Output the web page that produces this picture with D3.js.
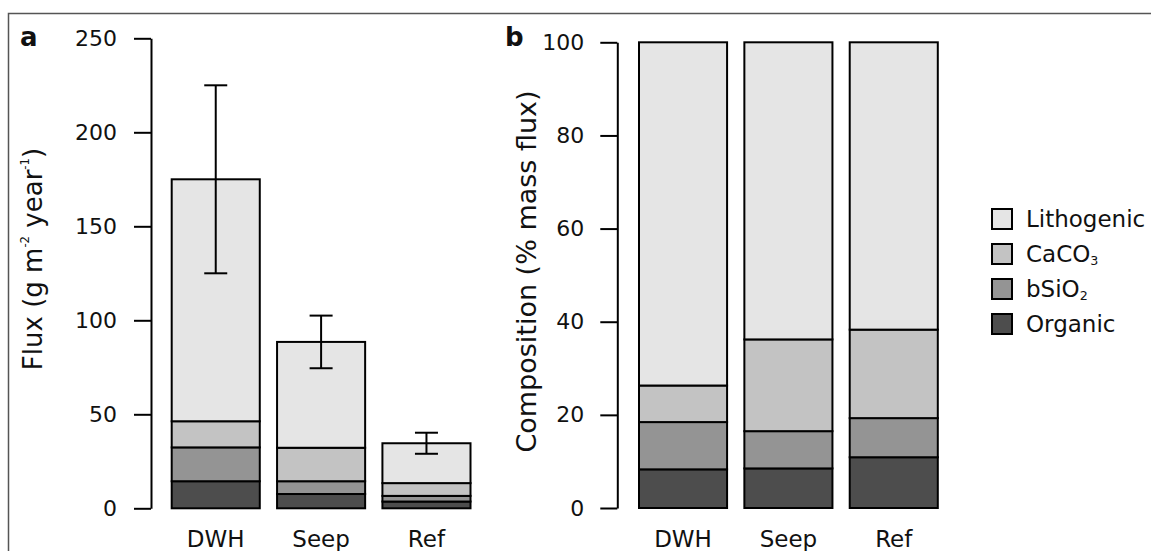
<!DOCTYPE html>
<html>
<head>
<meta charset="utf-8">
<script src="https://cdn.jsdelivr.net/npm/d3@7"></script>
<style>
  body { margin: 0; background: #fff; }
  text { font-family: "DejaVu Sans", Verdana, sans-serif; fill: #111; }
</style>
</head>
<body>
<div id="container"></div>
<script>
/* CONSTANTS AND GLOBALS */
const width = 1151, height = 551;

/* DATA */
const sites = ["DWH", "Seep", "Ref"];
const components = ["Organic", "bSiO2", "CaCO3", "Lithogenic"]; // bottom to top
const colors = ["#4d4d4d", "#949494", "#c3c3c3", "#e5e5e5"];

// panel a: flux in g m-2 year-1
const fluxOrganic = [14.4, 7.6, 3.6];
const fluxBSiO2 = [18.0, 6.8, 3.0];
const fluxCaCO3 = [13.9, 17.8, 6.8];
const fluxLithogenic = [128.7, 56.3, 21.2];
const fluxTotal = [175, 88.5, 34.6];
const fluxError = [50, 14, 5.6];
const fluxTicks = [0, 50, 100, 150, 200, 250];

// panel b: composition in % of mass flux
const pctOrganic = [8.3, 8.5, 10.9];
const pctBSiO2 = [10.15, 8.0, 8.4];
const pctCaCO3 = [7.85, 19.7, 19.0];
const pctLithogenic = [73.7, 63.8, 61.7];
const pctTicks = [0, 20, 40, 60, 80, 100];

// legend order (top to bottom)
const legendItems = ["Lithogenic", "CaCO3", "bSiO2", "Organic"];

const rowsFrom = (arrs) => sites.map((s, i) => {
  const r = { site: s };
  components.forEach((c, j) => r[c] = arrs[j][i]);
  return r;
});

const fluxRows = rowsFrom([fluxOrganic, fluxBSiO2, fluxCaCO3, fluxLithogenic]);
const pctRows = rowsFrom([pctOrganic, pctBSiO2, pctCaCO3, pctLithogenic]);

const color = d3.scaleOrdinal().domain(components).range(colors);
const stack = d3.stack().keys(components);

// CREATE SVG ELEMENT
const svg = d3.select("#container")
  .append("svg")
  .attr("width", width)
  .attr("height", height);

// figure frame
svg.append("path")
  .attr("d", `M8.5,${height} V13.5 H${width}`)
  .attr("fill", "none")
  .attr("stroke", "#555")
  .attr("stroke-width", 1.5);

// helper to add a label with sub/superscript pieces
function richText(sel, parts) {
  parts.forEach(p => {
    const t = sel.append("tspan").text(p.t);
    if (p.sup) t.attr("font-size", "0.45em").attr("baseline-shift", "110%");
    if (p.sub) t.attr("font-size", "0.55em").attr("baseline-shift", "-25%");
  });
}

function drawPanel(opts) {
  const g = svg.append("g");

  const x = d3.scaleBand()
    .domain(sites)
    .range(opts.xRange)
    .paddingInner(0.164)
    .paddingOuter(0);

  const y = d3.scaleLinear()
    .domain(opts.yDomain)
    .range(opts.yRange);

  // BARS
  const series = stack(opts.rows);
  g.selectAll(".layer")
    .data(series)
    .join("g")
    .attr("class", "layer")
    .attr("fill", d => color(d.key))
    .selectAll("rect")
    .data(d => d)
    .join("rect")
    .attr("x", d => x(d.data.site))
    .attr("width", x.bandwidth())
    .attr("y", d => y(d[1]))
    .attr("height", d => y(d[0]) - y(d[1]))
    .attr("stroke", "#000")
    .attr("stroke-width", 2);

  // ERROR BARS
  if (opts.errors) {
    const eb = g.selectAll(".err")
      .data(sites)
      .join("g")
      .attr("class", "err")
      .attr("stroke", "#000")
      .attr("stroke-width", 2);
    const cx = s => x(s) + x.bandwidth() / 2;
    eb.append("line")
      .attr("x1", cx).attr("x2", cx)
      .attr("y1", (s, i) => y(opts.totals[i] + opts.errors[i]))
      .attr("y2", (s, i) => y(opts.totals[i] - opts.errors[i]));
    [1, -1].forEach(sign => {
      eb.append("line")
        .attr("x1", s => cx(s) - 11.5).attr("x2", s => cx(s) + 11.5)
        .attr("y1", (s, i) => y(opts.totals[i] + sign * opts.errors[i]))
        .attr("y2", (s, i) => y(opts.totals[i] + sign * opts.errors[i]));
    });
  }

  // Y AXIS
  const yAxis = d3.axisLeft(y)
    .tickValues(opts.ticks)
    .tickSize(17)
    .tickSizeOuter(0)
    .tickPadding(opts.tickPad);
  const ax = g.append("g")
    .attr("transform", `translate(${opts.axisX},0)`)
    .call(yAxis);
  ax.selectAll("path, line").attr("stroke", "#000").attr("stroke-width", 2);
  ax.selectAll("text")
    .attr("font-size", 22)
    .attr("font-family", "DejaVu Sans, Verdana, sans-serif")
    .attr("fill", "#111");

  // X LABELS
  g.selectAll(".xlab")
    .data(sites)
    .join("text")
    .attr("class", "xlab")
    .attr("x", s => x(s) + x.bandwidth() / 2)
    .attr("y", 547)
    .attr("text-anchor", "middle")
    .attr("font-size", 23)
    .text(s => s);

  // Y LABEL
  const yl = g.append("text")
    .attr("transform", `translate(${opts.labelX},${opts.labelY}) rotate(-90)`)
    .attr("text-anchor", "middle")
    .attr("font-size", opts.labelSize);
  richText(yl, opts.label);

  // PANEL LETTER
  g.append("text")
    .attr("x", opts.letterX)
    .attr("y", 46)
    .attr("font-size", 26)
    .attr("font-weight", "bold")
    .text(opts.letter);
}

drawPanel({
  rows: fluxRows,
  xRange: [171.7, 470.5],
  yDomain: [0, 250],
  yRange: [508.3, 38.3],
  ticks: fluxTicks,
  tickPad: 17,
  axisX: 151,
  totals: fluxTotal,
  errors: fluxError,
  label: [{ t: "Flux (g m" }, { t: "-2", sup: true }, { t: " year" }, { t: "-1", sup: true }, { t: ")" }],
  labelSize: 26,
  labelX: 42,
  labelY: 259,
  letter: "a",
  letterX: 20
});

drawPanel({
  rows: pctRows,
  xRange: [639, 937.8],
  yDomain: [0, 100],
  yRange: [508, 42.3],
  ticks: pctTicks,
  tickPad: 16,
  axisX: 617.3,
  label: [{ t: "Composition (% mass flux)" }],
  labelSize: 27,
  labelX: 536,
  labelY: 271.5,
  letter: "b",
  letterX: 505
});

// LEGEND
const legend = svg.append("g").attr("transform", "translate(992,209)");
const li = legend.selectAll("g")
  .data(legendItems)
  .join("g")
  .attr("transform", (d, i) => `translate(0,${i * 35})`);
li.append("rect")
  .attr("width", 20)
  .attr("height", 20)
  .attr("fill", d => color(d))
  .attr("stroke", "#000")
  .attr("stroke-width", 2);
const lt = li.append("text")
  .attr("x", 34)
  .attr("y", 18)
  .attr("font-size", 23);
lt.each(function(d) {
  const t = d3.select(this);
  if (d === "CaCO3") richText(t, [{ t: "CaCO" }, { t: "3", sub: true }]);
  else if (d === "bSiO2") richText(t, [{ t: "bSiO" }, { t: "2", sub: true }]);
  else t.text(d);
});
</script>
</body>
</html>
